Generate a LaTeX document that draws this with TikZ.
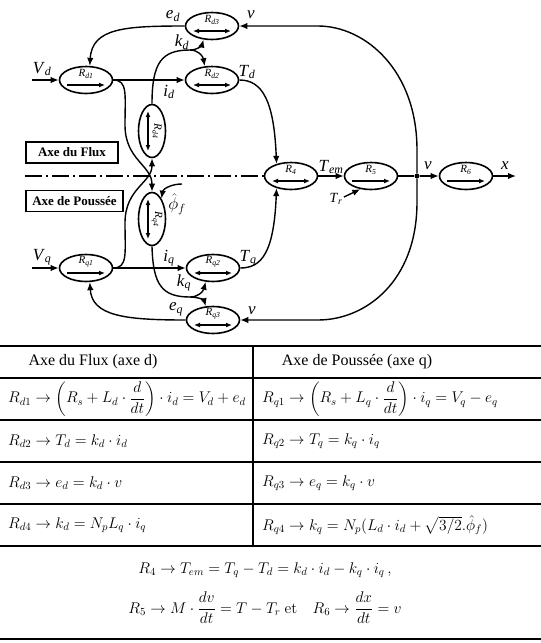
\RequirePackage{fix-cm}
\documentclass[tikz,border=0pt]{standalone}
\usepackage{amsmath}
\usepackage[no-math]{fontspec}
\setmainfont{Liberation Serif}
\usepackage{tikz}
\usetikzlibrary{arrows.meta,shapes.geometric,calc}

\newcommand{\sg}[2]{\textit{#1}\textsubscript{\textit{#2}}}

\tikzset{
  blk/.style={draw,ellipse,line width=1.6pt,minimum width=53pt,minimum height=27pt,inner sep=0pt},
  vblk/.style={blk,minimum width=27pt,minimum height=53pt},
  con/.style={line width=1.4pt},
  fwd/.style={-{Latex[length=6pt,width=5pt]},line width=1.3pt},
  both/.style={{Latex[length=6pt,width=5pt]}-{Latex[length=6pt,width=5pt]},line width=1.3pt},
  rlbl/.style={font=\fontsize{11}{13}\selectfont,inner sep=0pt},
  sig/.style={font=\fontsize{17}{20}\selectfont,inner sep=0pt},
  box/.style={draw,line width=1.3pt,font=\bfseries\fontsize{13}{15}\selectfont,minimum width=92pt,minimum height=21pt,inner sep=0pt},
  axis/.style={line width=1.5pt,dash pattern=on 17pt off 4pt on 2pt off 4pt},
  rule/.style={line width=1.5pt},
  tx/.style={font=\fontsize{16}{19}\selectfont,inner sep=0pt},
  eq/.style={font=\fontsize{15.5}{18}\selectfont,inner sep=0pt,anchor=west},
  dot/.style={circle,fill,inner sep=0pt,minimum size=5pt}
}

\begin{document}
\begin{tikzpicture}[x=1pt,y=-1pt,>={Latex[length=8pt,width=6.5pt]}]
\useasboundingbox (0,0) rectangle (541,643);

\node[blk] (d3) at (212,26) {};
\node[blk] (d1) at (86,80) {};
\node[blk] (d2) at (212,80) {};
\node[vblk] (d4) at (152,131) {};
\node[vblk] (q4) at (152,219) {};
\node[blk] (q1) at (86,268) {};
\node[blk] (q2) at (213,268) {};
\node[blk] (q3) at (213,320) {};
\node[blk] (r4) at (291,176) {};
\node[blk] (r5) at (371,176) {};
\node[blk] (r6) at (466,176) {};
\node[dot] (v) at (417,176) {};

\foreach \n/\t/\a in {d1/d1/fwd,d2/d2/both,d3/d3/both,q1/q1/fwd,q2/q2/both,q3/q3/both,r4/4/both,r5/5/fwd,r6/6/fwd}{
  \node[rlbl] at ([yshift=6pt]\n.center) {\sg{R}{\t}};
  \draw[\a] ([xshift=-19pt,yshift=-5pt]\n.center) -- ([xshift=19pt,yshift=-5pt]\n.center);
}
\foreach \n/\t in {d4/d4,q4/q4}{
  \node[rlbl,rotate=-90] at ([xshift=5pt]\n.center) {\sg{R}{\t}};
  \draw[both] ([xshift=-4pt,yshift=20pt]\n.center) -- ([xshift=-4pt,yshift=-20pt]\n.center);
}

\coordinate (vdin) at (32,80);
\coordinate (vqin) at (32,268);
\coordinate (kd) at (190,50);
\coordinate (kq) at (190,297);
\coordinate (phin) at (182,184);
\coordinate (tr) at (344,197);
\coordinate (xout) at (516,176);
\coordinate (ax) at (25,176);

\draw[con,->] (vdin) -- (d1);
\draw[con,->] (vqin) -- (q1);
\draw[con,->] (d1) -- (d2);
\draw[con,->] (q1) -- (q2);
\draw[con,->] (d3.west) .. controls (125,26) and (92,28) .. (d1.75);
\draw[con,->] (q3.west) .. controls (125,320) and (92,316) .. (q1.285);

\draw[con] (d4.north) .. controls (152,62) and (162,50) .. (kd);
\draw[con,->] (kd) .. controls (198,50) and (202,45) .. (d3.238);
\draw[con,->] (kd) .. controls (198,50) and (203,56) .. (d2.118);
\draw[con] (q4.south) .. controls (153,285) and (162,297) .. (kq);
\draw[con,->] (kq) .. controls (198,297) and (203,292) .. (q2.242);
\draw[con,->] (kq) .. controls (198,297) and (204,300) .. (q3.118);

\draw[con,->] (d1.east) .. controls (128,80) and (125,95) .. (125,125) .. controls (125,160) and (152,165) .. (q4.north);
\draw[con,->] (q1.east) .. controls (128,268) and (125,253) .. (125,223) .. controls (125,188) and (152,183) .. (d4.south);
\draw[con,->] (phin) .. controls (171,184) and (163,189) .. (q4.65);

\draw[con,->] (d2.east) .. controls (262,80) and (274,100) .. (r4.140);
\draw[con,->] (q2.east) .. controls (262,268) and (274,252) .. (r4.220);
\draw[con,->] (r4) -- (r5);
\draw[con,->] (tr) -- (r5.231);
\draw[con] (r5) -- (v);
\draw[con,->] (v) -- (r6);
\draw[con,->] (r6) -- (xout);
\draw[con,->] (v) -- (417,150) .. controls (417,70) and (365,26) .. (318,26) -- (d3.east);
\draw[con,->] (v) -- (417,202) .. controls (417,282) and (365,320) .. (318,320) -- (q3.east);
\draw[axis] (ax) -- (r4.west);

\node[sig] at (42,69) {\sg{V}{d}};
\node[sig] at (42,257) {\sg{V}{q}};
\node[sig] at (173,16) {\sg{e}{d}};
\node[sig] at (182,42) {\sg{k}{d}};
\node[sig] at (169,92) {\sg{i}{d}};
\node[sig] at (247,72) {\sg{T}{d}};
\node[sig] at (251,15) {\textit{v}};
\node[sig] at (177,204) {$\hat{\phi}_f$};
\node[sig] at (169,258) {\sg{i}{q}};
\node[sig] at (248,258) {\sg{T}{q}};
\node[sig] at (184,283) {\sg{k}{q}};
\node[sig] at (176,309) {\sg{e}{q}};
\node[sig] at (252,311) {\textit{v}};
\node[sig] at (331,167) {\sg{T}{em}};
\node[sig,font=\fontsize{14}{16}\selectfont] at (336,199) {\sg{T}{r}};
\node[sig] at (428,166) {\textit{v}};
\node[sig] at (505,166) {\textit{x}};

\node[box] (flux) at (72,152.5) {Axe du Flux};
\node[box,minimum width=97pt] (pous) at (74.5,201) {Axe de Poussée};

\foreach \y in {346,378,420,462,504,546,639}
  \draw[rule] (0,\y) -- (541,\y);
\draw[rule] (253,346) -- (253,546);

\node[tx] (hd) at (93,362) {Axe du Flux (axe d)};
\node[tx] (hq) at (357,362) {Axe de Poussée (axe q)};
\node[eq] (rd1) at (8,399) {$R_{d1}\rightarrow\left(R_s+L_d\cdot\dfrac{d}{dt}\right)\cdot i_d=V_d+e_d$};
\node[eq] (rq1) at (262,399) {$R_{q1}\rightarrow\left(R_s+L_q\cdot\dfrac{d}{dt}\right)\cdot i_q=V_q-e_q$};
\node[eq] (rd2) at (8,441) {$R_{d2}\rightarrow T_d=k_d\cdot i_d$};
\node[eq] (rq2) at (262,441) {$R_{q2}\rightarrow T_q=k_q\cdot i_q$};
\node[eq] (rd3) at (8,483) {$R_{d3}\rightarrow e_d=k_d\cdot v$};
\node[eq] (rq3) at (262,483) {$R_{q3}\rightarrow e_q=k_q\cdot v$};
\node[eq] (rd4) at (8,525) {$R_{d4}\rightarrow k_d=N_pL_q\cdot i_q$};
\node[eq] (rq4) at (262,525) {$R_{q4}\rightarrow k_q=N_p(L_d\cdot i_d+\sqrt{3/2}.\hat{\phi}_f)$};
\node[eq,anchor=center] (r4eq) at (265,570) {$R_4\rightarrow T_{em}=T_q-T_d=k_d\cdot i_d-k_q\cdot i_q\,,$};
\node[eq,anchor=center] (r56eq) at (265,608) {$R_5\rightarrow M\cdot\dfrac{dv}{dt}=T-T_r\ \mathrm{et}\quad R_6\rightarrow\dfrac{dx}{dt}=v$};
\end{tikzpicture}
\end{document}
